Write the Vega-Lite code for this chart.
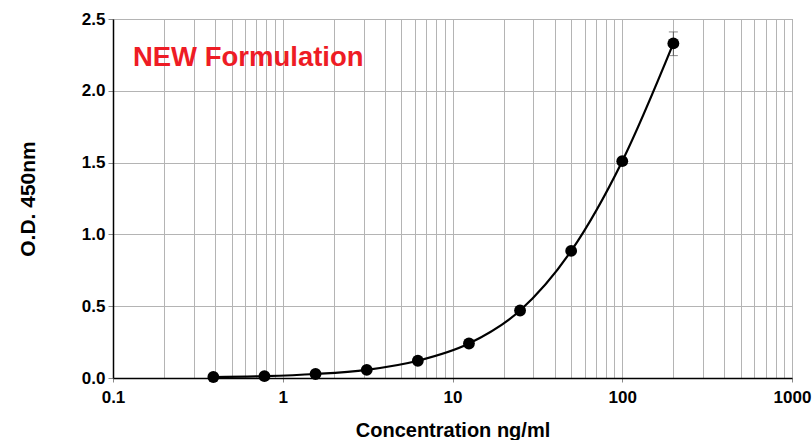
{
  "$schema": "https://vega.github.io/schema/vega-lite/v6.json",
  "width": 679,
  "height": 359,
  "autosize": "none",
  "padding": {"left": 113, "top": 19, "right": 20, "bottom": 62},
  "background": "white",
  "config": {
    "font": "Liberation Sans",
    "view": {"stroke": "#8a8a8a", "strokeWidth": 1},
    "axis": {
      "labelFont": "Liberation Sans",
      "titleFont": "Liberation Sans",
      "labelFontWeight": "bold",
      "titleFontWeight": "bold",
      "labelColor": "black",
      "titleColor": "black",
      "gridColor": "#b4b4b4",
      "gridOpacity": 1,
      "gridWidth": 1,
      "domainColor": "black",
      "domainWidth": 1.5,
      "tickColor": "#888888"
    }
  },
  "datasets": {
    "curve": [
      {"conc": 0.39, "od": 0.007},
      {"conc": 0.78, "od": 0.013},
      {"conc": 1.56, "od": 0.028},
      {"conc": 3.125, "od": 0.057},
      {"conc": 6.25, "od": 0.12},
      {"conc": 12.5, "od": 0.24},
      {"conc": 25, "od": 0.47},
      {"conc": 50, "od": 0.885},
      {"conc": 100, "od": 1.51},
      {"conc": 200, "od": 2.33}
    ],
    "err": [
      {"conc": 100, "lo": 1.49, "hi": 1.53},
      {"conc": 200, "lo": 2.245, "hi": 2.41}
    ],
    "label": [
      {"conc": 0.131, "od": 2.23, "text": "NEW Formulation"}
    ]
  },
  "layer": [
    {
      "data": {"name": "curve"},
      "mark": {"type": "line", "color": "black", "strokeWidth": 2.2, "interpolate": "monotone"},
      "encoding": {
        "x": {
          "field": "conc", "type": "quantitative",
          "scale": {"type": "log", "domain": [0.1, 1000], "nice": false},
          "axis": {
            "title": "Concentration ng/ml",
            "titleFontSize": 20,
            "titlePadding": 15,
            "labelFontSize": 17,
            "labelPadding": 7,
            "tickSize": 4,
            "tickOpacity": {"condition": {"test": "datum.value==0.1||datum.value==1||datum.value==10||datum.value==100||datum.value==1000", "value": 1}, "value": 0},
            "format": ".1~f",
            "values": [0.1,0.2,0.3,0.4,0.5,0.6,0.7,0.8,0.9,1,2,3,4,5,6,7,8,9,10,20,30,40,50,60,70,80,90,100,200,300,400,500,600,700,800,900,1000],
            "labelExpr": "(datum.value==0.1||datum.value==1||datum.value==10||datum.value==100||datum.value==1000) ? datum.label : ''",
            "labelOverlap": false,
            "labelBound": false,
            "labelFlush": false
          }
        },
        "y": {
          "field": "od", "type": "quantitative",
          "scale": {"domain": [0, 2.5], "nice": false},
          "axis": {
            "title": "O.D. 450nm",
            "titleFontSize": 21,
            "titlePadding": 43,
            "labelFontSize": 17,
            "labelPadding": 3,
            "format": ".1f",
            "values": [0, 0.5, 1, 1.5, 2, 2.5],
            "tickSize": 5
          }
        }
      }
    },
    {
      "data": {"name": "err"},
      "mark": {"type": "rule", "color": "#555555", "strokeWidth": 1},
      "encoding": {
        "x": {"field": "conc", "type": "quantitative"},
        "y": {"field": "lo", "type": "quantitative"},
        "y2": {"field": "hi"}
      }
    },
    {
      "data": {"name": "err"},
      "mark": {"type": "tick", "orient": "horizontal", "color": "#555555", "size": 9, "thickness": 1},
      "encoding": {
        "x": {"field": "conc", "type": "quantitative"},
        "y": {"field": "lo", "type": "quantitative"}
      }
    },
    {
      "data": {"name": "err"},
      "mark": {"type": "tick", "orient": "horizontal", "color": "#555555", "size": 9, "thickness": 1},
      "encoding": {
        "x": {"field": "conc", "type": "quantitative"},
        "y": {"field": "hi", "type": "quantitative"}
      }
    },
    {
      "data": {"name": "curve"},
      "mark": {"type": "circle", "color": "black", "opacity": 1, "size": 140},
      "encoding": {
        "x": {"field": "conc", "type": "quantitative"},
        "y": {"field": "od", "type": "quantitative"}
      }
    },
    {
      "data": {"name": "label"},
      "mark": {"type": "text", "color": "#ee1c25", "fontSize": 27.5, "fontWeight": "bold", "font": "Liberation Sans", "align": "left", "baseline": "middle"},
      "encoding": {
        "x": {"field": "conc", "type": "quantitative"},
        "y": {"field": "od", "type": "quantitative"},
        "text": {"field": "text"}
      }
    }
  ]
}
